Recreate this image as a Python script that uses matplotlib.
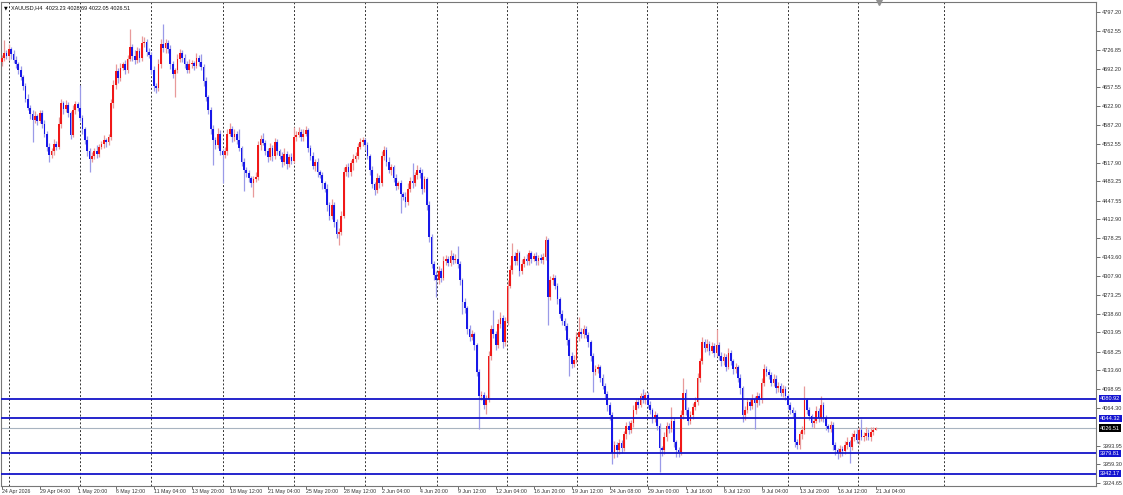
import matplotlib
matplotlib.use("Agg")
import matplotlib.pyplot as plt
import numpy as np

# XAUUSD H4 candles (open = previous close)
first_open = 4705.0
closes = [
    4712, 4722, 4716, 4728, 4720, 4708, 4700, 4690, 4676, 4660, 4636, 4620, 4608, 4598, 4604, 4596,
    4610, 4590, 4572, 4548, 4532, 4540, 4552, 4548, 4590, 4628, 4618, 4624, 4610, 4570, 4615, 4626,
    4620, 4600, 4580, 4560, 4540, 4525, 4530, 4540, 4535, 4548, 4552, 4560, 4556, 4566, 4628, 4662,
    4688, 4675, 4694, 4700, 4690, 4710, 4732, 4716, 4708, 4725, 4712, 4740, 4742, 4724, 4718, 4690,
    4660, 4656, 4700, 4738, 4730, 4740, 4728, 4700, 4682, 4690, 4710, 4722, 4712, 4700, 4690, 4700,
    4702, 4698, 4712, 4705, 4695, 4670, 4640, 4615, 4580, 4560, 4550, 4572, 4540, 4532, 4540, 4572,
    4580, 4565, 4572, 4560, 4545, 4520, 4505, 4498, 4490, 4480, 4488, 4492, 4550, 4562, 4555, 4540,
    4528, 4546, 4530, 4556, 4540, 4530, 4520, 4535, 4515, 4528, 4522, 4565, 4570, 4575, 4565, 4572,
    4578, 4545, 4530, 4512, 4520, 4500, 4495, 4480, 4470, 4440, 4420, 4440, 4408, 4385, 4390, 4420,
    4500, 4510, 4500, 4518, 4525, 4530, 4548, 4556, 4560, 4550, 4530, 4505, 4478, 4468, 4490, 4480,
    4530, 4542, 4520, 4505, 4510, 4490, 4475, 4480, 4460, 4455, 4445, 4470, 4485, 4480, 4495, 4505,
    4498, 4470, 4488, 4440, 4380, 4330, 4310, 4300, 4318, 4305, 4335, 4340, 4332, 4345, 4338, 4340,
    4330, 4300, 4260, 4248, 4210, 4195, 4200, 4180, 4130, 4085, 4088, 4070, 4080, 4160, 4210, 4200,
    4180, 4220, 4230, 4185, 4225, 4290, 4320, 4345, 4335, 4350, 4318, 4330, 4340, 4335, 4350, 4340,
    4345, 4335, 4342, 4338, 4344, 4375, 4270, 4300, 4305, 4290, 4265, 4238, 4225, 4215, 4190, 4160,
    4145, 4152, 4195, 4205, 4200, 4210, 4198, 4185, 4160, 4130, 4135, 4140, 4120, 4105, 4090, 4070,
    4050, 3980, 3995, 3985, 3998, 3990, 4015, 4030, 4022, 4035, 4060, 4075, 4070, 4085, 4078, 4088,
    4070, 4060, 4045, 4050, 4030, 3990, 3985, 4010, 4030, 4025, 4040, 4000, 3985, 3982, 4050, 4092,
    4060, 4040, 4050, 4065, 4075, 4120, 4150, 4185, 4175, 4182, 4170, 4178, 4165, 4180, 4160, 4150,
    4158, 4140, 4165, 4150, 4135, 4140, 4120, 4100, 4050, 4060, 4075, 4068, 4080, 4072, 4085, 4078,
    4110, 4135, 4130, 4125, 4110, 4118, 4100, 4105, 4092, 4098, 4085, 4070, 4060, 4055, 4000, 3995,
    4015, 4022, 4078, 4060, 4048, 4035, 4040, 4058, 4045, 4070, 4045, 4030, 4025, 4032, 3995, 3985,
    3980, 3988, 3984, 3995, 4000, 3992, 4010, 4015, 4005, 4022, 4010, 4012, 4018, 4010, 4020, 4023.23,
    4026.51,
]
# upper / lower shadow lengths above / below the body
upper_wick = [
    6, 23, 5, 9, 4, 6, 8, 5, 7, 4, 6, 9, 5, 7, 10, 4,
    6, 5, 8, 4, 7, 5, 9, 6, 12, 8, 5, 10, 6, 4, 9, 7,
    5, 42, 6, 4, 7, 5, 8, 6, 10, 5, 7, 9, 4, 6, 8, 10,
    12, 6, 8, 5, 9, 7, 33, 6, 10, 8, 5, 12, 9, 6, 7, 5,
    8, 6, 10, 9, 37, 7, 5, 8, 6, 4, 9, 7, 5, 8, 6, 10,
    7, 5, 9, 6, 15, 5, 7, 4, 6, 8, 5, 10, 6, 4, 8, 9,
    12, 6, 8, 5, 20, 4, 6, 5, 7, 4, 6, 8, 9, 7, 11, 5,
    6, 9, 5, 8, 6, 4, 7, 10, 5, 6, 8, 20, 7, 9, 5, 8,
    8, 5, 6, 8, 4, 7, 5, 6, 4, 8, 5, 10, 6, 5, 7, 9,
    10, 6, 8, 5, 9, 7, 6, 8, 5, 4, 6, 5, 7, 4, 8, 6,
    9, 7, 5, 8, 6, 4, 7, 5, 6, 4, 8, 10, 7, 33, 6, 9,
    5, 8, 6, 4, 7, 5, 6, 8, 9, 5, 10, 7, 6, 12, 5, 8,
    23, 6, 5, 8, 4, 7, 9, 5, 4, 6, 8, 5, 7, 10, 8, 36,
    6, 9, 12, 5, 8, 10, 9, 25, 7, 8, 5, 9, 6, 8, 7, 5,
    6, 8, 5, 7, 6, 8, 4, 9, 7, 5, 6, 4, 7, 5, 6, 4,
    8, 10, 9, 27, 6, 8, 5, 7, 4, 5, 8, 6, 4, 7, 5, 6,
    4, 6, 8, 5, 9, 7, 6, 8, 10, 7, 9, 6, 8, 7, 13, 6,
    5, 7, 4, 8, 5, 6, 4, 9, 8, 6, 25, 5, 4, 6, 10, 28,
    6, 5, 8, 7, 9, 8, 6, 10, 7, 9, 5, 8, 6, 30, 5, 7,
    8, 5, 9, 6, 5, 7, 4, 6, 5, 8, 7, 6, 9, 5, 8, 6,
    9, 10, 7, 6, 5, 8, 6, 7, 5, 8, 6, 5, 4, 6, 5, 7,
    6, 8, 27, 5, 6, 4, 7, 9, 6, 15, 5, 6, 4, 7, 5, 6,
    5, 7, 6, 8, 9, 5, 8, 7, 9, 6, 21, 8, 10, 6, 9, 6,
    2.18,
]
lower_wick = [
    8, 5, 6, 7, 9, 5, 6, 8, 4, 7, 6, 5, 9, 41, 6, 8,
    5, 7, 6, 9, 12, 5, 8, 6, 4, 7, 10, 6, 8, 9, 5, 7,
    6, 5, 8, 7, 9, 24, 6, 5, 8, 6, 4, 7, 9, 5, 6, 8,
    7, 10, 6, 5, 8, 6, 4, 9, 7, 6, 8, 5, 7, 9, 6, 8,
    10, 9, 5, 6, 7, 8, 6, 9, 7, 42, 5, 6, 8, 7, 6, 5,
    6, 8, 5, 7, 6, 9, 7, 6, 8, 46, 7, 5, 8, 51, 6, 7,
    5, 8, 6, 7, 5, 9, 40, 6, 8, 7, 25, 5, 6, 8, 5, 7,
    9, 5, 8, 6, 7, 5, 10, 6, 8, 5, 7, 4, 6, 5, 7, 6,
    5, 8, 7, 6, 9, 8, 6, 10, 7, 12, 8, 6, 9, 7, 20, 6,
    5, 7, 8, 6, 13, 5, 6, 4, 7, 8, 6, 9, 7, 10, 6, 8,
    5, 7, 8, 6, 9, 7, 8, 6, 35, 7, 9, 5, 6, 8, 5, 7,
    8, 10, 6, 9, 8, 7, 10, 30, 6, 8, 5, 7, 6, 5, 8, 6,
    7, 9, 23, 8, 10, 7, 6, 9, 8, 61, 7, 9, 18, 6, 8, 7,
    9, 6, 8, 10, 6, 7, 5, 8, 6, 7, 9, 6, 5, 7, 6, 8,
    5, 7, 6, 5, 8, 6, 52, 7, 8, 6, 9, 7, 8, 6, 9, 38,
    7, 6, 5, 8, 6, 7, 5, 8, 9, 37, 6, 7, 8, 6, 9, 12,
    8, 20, 9, 12, 7, 10, 6, 8, 7, 5, 6, 8, 7, 5, 6, 7,
    6, 8, 9, 7, 8, 45, 10, 6, 8, 7, 5, 9, 12, 10, 6, 7,
    9, 8, 6, 7, 5, 6, 8, 5, 7, 6, 8, 5, 7, 6, 8, 9,
    6, 8, 5, 7, 9, 6, 8, 10, 12, 8, 6, 9, 7, 47, 6, 8,
    5, 6, 7, 8, 6, 5, 9, 7, 6, 8, 7, 9, 8, 10, 9, 8,
    7, 9, 6, 8, 7, 6, 9, 5, 7, 6, 8, 7, 6, 5, 9, 8,
    10, 7, 9, 6, 8, 30, 6, 8, 7, 9, 6, 8, 7, 6, 8, 6,
    1.18,
]

x_labels = ["24 Apr 2026", "29 Apr 04:00", "1 May 20:00", "6 May 12:00", "11 May 04:00",
            "13 May 20:00", "18 May 12:00", "21 May 04:00", "25 May 20:00", "28 May 12:00",
            "2 Jun 04:00", "4 Jun 20:00", "9 Jun 12:00", "12 Jun 04:00", "16 Jun 20:00",
            "19 Jun 12:00", "24 Jun 08:00", "29 Jun 00:00", "1 Jul 16:00", "6 Jul 12:00",
            "9 Jul 04:00", "13 Jul 20:00", "16 Jul 12:00", "21 Jul 04:00"]
bars_per_label = 16

y_ticks = [4797.20, 4762.55, 4726.85, 4692.20, 4657.55, 4622.90, 4587.20, 4552.55,
           4517.90, 4483.25, 4447.55, 4412.90, 4378.25, 4343.60, 4307.90, 4273.25,
           4238.60, 4203.95, 4168.25, 4133.60, 4098.95, 4064.30, 3993.95, 3959.30, 3924.65]

levels = [4080.92, 4044.32, 3979.81, 3942.17]
last_price = 4026.51
title = "XAUUSD,H4  4023.23 4028.69 4022.05 4026.51"

n = len(closes)
if not (len(upper_wick) == n and len(lower_wick) == n):
    raise SystemExit("length mismatch %d %d %d" % (n, len(upper_wick), len(lower_wick)))

c = np.array(closes, dtype=float)
o = np.concatenate([[first_open], c[:-1]])
top = np.maximum(o, c)
bot = np.minimum(o, c)
hi = top + np.array(upper_wick)
lo = bot - np.array(lower_wick)
idx = np.arange(n)
up = c >= o

plt.rcParams['font.family'] = ['Liberation Sans', 'DejaVu Sans']

fig = plt.figure(figsize=(11.23, 4.95), dpi=100)
W, H = 1123, 495
ax = fig.add_axes([1 / W, 9 / H, 1095 / W, 484 / H])

red, blue = '#f01818', '#1818e8'
red_w, blue_w = '#e89a9a', '#9a9ae8'

# dotted vertical grid
for gx in [2.95, 32.8, 62.7, 93.1, 122.9, 152.8, 183.2, 212.6, 242.1, 271.6, 301.1, 330.9, 360.4, 396.6]:
    ax.axvline(gx, color='#333333', lw=0.7, ls=(0, (2, 2)), zorder=0)

# candles
ax.vlines(idx[up], lo[up], hi[up], color=red_w, lw=0.9, zorder=2)
ax.vlines(idx[~up], lo[~up], hi[~up], color=blue_w, lw=0.9, zorder=2)
body_h = np.maximum(top - bot, 0.8)
ax.bar(idx[up], body_h[up], bottom=bot[up], width=0.72, color=red, lw=0, zorder=3)
ax.bar(idx[~up], body_h[~up], bottom=bot[~up], width=0.72, color=blue, lw=0, zorder=3)

# horizontal levels
for lv in levels:
    ax.axhline(lv, color='#1414c8', lw=1.3, zorder=4)
    ax.annotate(f"{lv:.2f}", xy=(1.0, lv), xycoords=('axes fraction', 'data'),
                xytext=(3, 0), textcoords='offset points', va='center', ha='left',
                fontsize=4, color='white', annotation_clip=False,
                bbox=dict(boxstyle='square,pad=0.2', fc='#1414d0', ec='none'))
ax.axhline(last_price, color='#a8b4c0', lw=0.8, zorder=1)
ax.annotate(f"{last_price:.2f}", xy=(1.0, last_price), xycoords=('axes fraction', 'data'),
            xytext=(3, 0), textcoords='offset points', va='center', ha='left',
            fontsize=4, color='white', annotation_clip=False,
            bbox=dict(boxstyle='square,pad=0.2', fc='black', ec='none'))

ax.set_xlim(-0.3, 460.8)
ax.set_ylim(3919.1, 4815.7)

ax.yaxis.tick_right()
ax.set_yticks(y_ticks)
ax.set_yticklabels([f"{v:.2f}" for v in y_ticks])
ax.tick_params(axis='y', labelsize=4, length=3, width=0.6, color='#555555', pad=1.5,
               labelcolor='#333333')

ax.set_xticks(np.arange(len(x_labels)) * bars_per_label)
ax.set_xticklabels(x_labels)
ax.tick_params(axis='x', labelsize=3.8, length=2, width=0.6, color='#555555', pad=0.3,
               labelcolor='#333333')
for lab in ax.get_xticklabels():
    lab.set_ha('left')

for sp in ax.spines.values():
    sp.set_color('#777777')
    sp.set_linewidth(0.8)

# title / symbol line
ax.text(0.0025, 0.992, "\u25bc", transform=ax.transAxes, fontsize=3.5, va='top', ha='left',
        family='DejaVu Sans')
ax.text(0.009, 0.993, title, transform=ax.transAxes, fontsize=4, va='top', ha='left',
        color='#111111')

# chart shift marker
ax.plot([369.5], [4815.7], marker='v', ms=4, color='#909090', clip_on=False, zorder=5)

fig.savefig("out.png", dpi=100)
